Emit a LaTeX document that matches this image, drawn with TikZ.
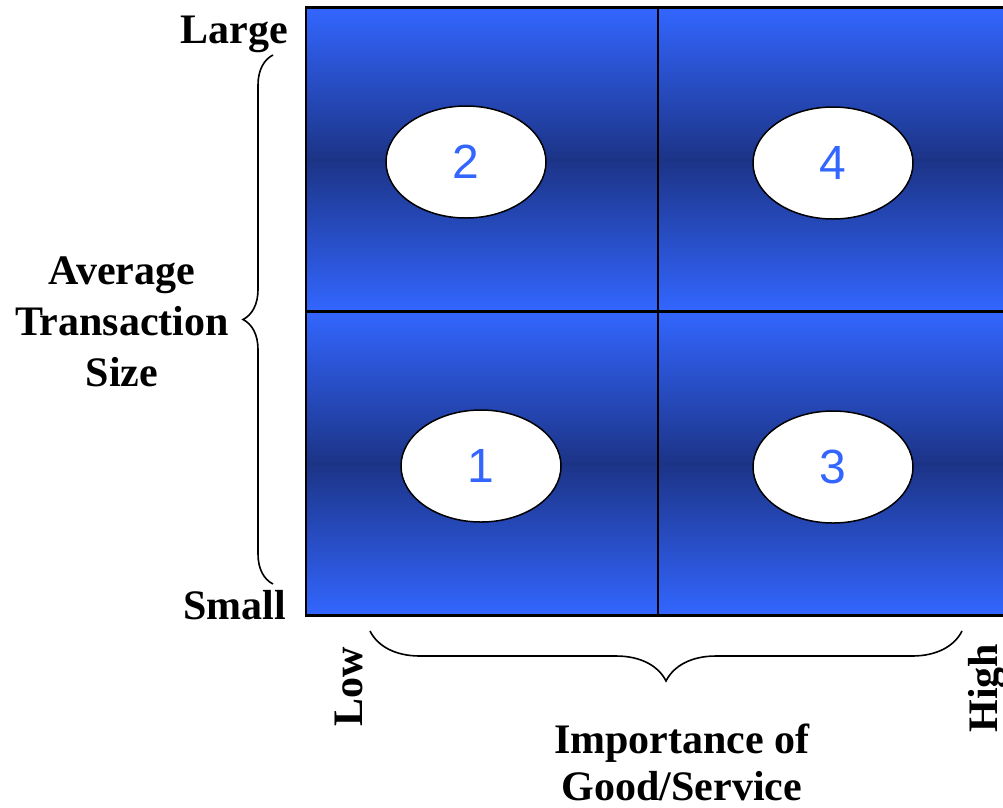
\documentclass[tikz,border=0pt]{standalone}
\usepackage{fontspec}
\setmainfont{Liberation Serif}
\newfontfamily\digitfont{Liberation Sans}
\usetikzlibrary{decorations.pathreplacing,shapes.geometric}
\definecolor{lightblu}{RGB}{51,102,255}
\definecolor{darkblu}{RGB}{28,52,135}
\definecolor{numblu}{RGB}{51,102,255}
\begin{document}
\begin{tikzpicture}[x=1pt,y=-1pt,
  cell/.style={draw=black, line width=2.5pt, minimum width=352pt, minimum height=304pt, inner sep=0pt,
    top color=lightblu, bottom color=lightblu, middle color=darkblu},
  oval/.style={ellipse, draw=black, line width=1.5pt, fill=white, minimum width=160pt, minimum height=112pt,
    inner sep=0pt, font=\digitfont\fontsize{48}{48}\selectfont, text=numblu},
  lbl/.style={font=\bfseries\fontsize{42}{51}\selectfont, inner sep=0pt},
  bracestyle/.style={decorate, line width=1.6pt}]
\path[use as bounding box, clip] (0,0) rectangle (1003,807);
% cells
\node[cell] (c2) at (482,159.5) {};
\node[cell] (c4) at (834,159.5) {};
\node[cell] (c1) at (482,463.5) {};
\node[cell] (c3) at (834,463.5) {};
% ovals
\node[oval] (o2) at (466,162) {2};
\node[oval] (o4) at (833,163) {4};
\node[oval] (o1) at (481,466) {1};
\node[oval] (o3) at (833,467) {3};
% labels
\node[lbl, anchor=base east] (large) at (288,43) {Large};
\node[lbl, anchor=base east] (small) at (286,619) {Small};
\node[lbl, align=center] (ats) at (122,322) {Average\\Transaction\\Size};
\node[lbl, anchor=base, rotate=90] (low) at (362,687) {Low};
\node[lbl, anchor=base, rotate=90] (high) at (997,688) {High};
\node[lbl, anchor=base] (imp) at (682,753) {Importance of};
\node[lbl, anchor=base] (gs) at (682,800) {Good/Service};
% braces
\coordinate (lb1) at (273,584);
\coordinate (lb2) at (273,55);
\coordinate (bb1) at (962,631);
\coordinate (bb2) at (370,631);
\draw[bracestyle, decoration={brace, amplitude=30pt}] (lb1) -- (lb2);
\draw[bracestyle, decoration={brace, amplitude=50pt}] (bb1) -- (bb2);
\end{tikzpicture}
\end{document}
